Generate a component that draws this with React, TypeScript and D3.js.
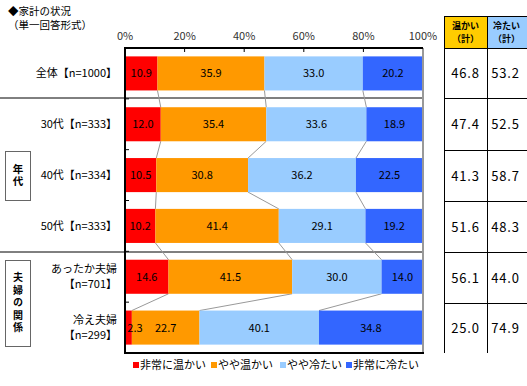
import React from 'react';
import * as d3 from 'd3';

const categories = ['全体【n=1000】', '30代【n=333】', '40代【n=334】', '50代【n=333】', 'あったか夫婦|【n=701】', '冷え夫婦|【n=299】'];
const seriesNames = ['非常に温かい', 'やや温かい', 'やや冷たい', '非常に冷たい'];
const veryWarm = [10.9, 12.0, 10.5, 10.2, 14.6, 2.3];
const warm = [35.9, 35.4, 30.8, 41.4, 41.5, 22.7];
const cold = [33.0, 33.6, 36.2, 29.1, 30.0, 40.1];
const veryCold = [20.2, 18.9, 22.5, 19.2, 14.0, 34.8];
const warmTotal = [46.8, 47.4, 41.3, 51.6, 56.1, 25.0];
const coldTotal = [53.2, 52.5, 58.7, 48.3, 44.0, 74.9];
const ticks = [0, 20, 40, 60, 80, 100];
const colors = ['#ff0000', '#ff9900', '#99ccff', '#3366ff'];

const FONT = '"Noto Sans CJK JP", "Noto Sans", sans-serif';

const App = () => {
  const left = 125, right = 423, top = 48, bottom = 353;
  const x = d3.scaleLinear().domain([0, 100]).range([left, right]);
  const y = d3.scaleBand<number>().domain(d3.range(categories.length)).range([top, bottom]).paddingInner(0.33).paddingOuter(0.165);
  const bw = y.bandwidth();

  const rows = categories.map((c, i) => {
    const vals = [veryWarm[i], warm[i], cold[i], veryCold[i]];
    let acc = 0;
    const segs = vals.map((v, k) => {
      const s = { k, v, x0: acc, x1: acc + v };
      acc += v;
      return s;
    });
    return { c, i, segs };
  });

  const tableRows = [top, 98, 150, 201, 252, 303, bottom];
  const colX = [444, 487, 530];

  return (
    <svg width={527} height={386} style={{ position: 'absolute', left: 0, top: 0, fontFamily: FONT }}>
      <rect width={527} height={386} fill="#fff" />
      <text x={8} y={15} fontSize={10.5}>◆家計の状況</text>
      <text x={8} y={29} fontSize={10.5}>（単一回答形式）</text>

      {/* group separators */}
      <line x1={0} x2={right} y1={98} y2={98} stroke="#000" />
      <line x1={0} x2={right} y1={252} y2={252} stroke="#000" />

      {/* connectors */}
      {rows.slice(0, -1).map((r, i) =>
        [0, 1, 2].map(k => (
          <line key={`c${i}-${k}`} x1={x(r.segs[k].x1)} y1={y(i)! + bw} x2={x(rows[i + 1].segs[k].x1)} y2={y(i + 1)!} stroke="#999" />
        ))
      )}

      {/* bars */}
      {rows.map(r => (
        <g key={r.i}>
          {r.segs.map(s => (
            <rect key={s.k} x={x(s.x0)} y={y(r.i)} width={x(s.x1) - x(s.x0)} height={bw} fill={colors[s.k]} />
          ))}
          {r.segs.map(s => (
            <text key={'t' + s.k} x={Math.max((x(s.x0) + x(s.x1)) / 2, left + 10)} y={y(r.i)! + bw / 2 + 4} fontSize={11} textAnchor="middle" fill="#000">
              {s.v.toFixed(1)}
            </text>
          ))}
        </g>
      ))}

      {/* category labels */}
      {categories.map((c, i) => {
        const parts = c.split('|');
        const cy = y(i)! + bw / 2;
        return parts.map((p, j) => (
          <text key={c + j} x={117} y={cy + 4 + (j - (parts.length - 1) / 2) * 15} fontSize={11} textAnchor="end">{p}</text>
        ));
      })}

      {/* group boxes (vertical text) */}
      <rect x={5.5} y={151.5} width={25} height={49} fill="#fff" stroke="#666" />
      <text x={18} y={176} fontSize={10.5} fontWeight="bold" textAnchor="middle" letterSpacing={2}
        style={{ writingMode: 'vertical-rl' }}>年代</text>
      <rect x={5.5} y={260.5} width={25} height={86} fill="#fff" stroke="#666" />
      <text x={18} y={303.5} fontSize={10} fontWeight="bold" textAnchor="middle" letterSpacing={2.5}
        style={{ writingMode: 'vertical-rl' }}>夫婦の関係</text>

      {/* axes & frame */}
      {ticks.map(t => (
        <g key={t}>
          <line x1={x(t)} x2={x(t)} y1={top} y2={top + 4} stroke="#000" />
          <text x={x(t)} y={40} fontSize={11} textAnchor="middle" fill="#333">{t}%</text>
        </g>
      ))}
      {d3.range(1, categories.length).map(i => (
        <line key={'yt' + i} x1={left} x2={left + 4} y1={top + y.step() * i} y2={top + y.step() * i} stroke="#000" />
      ))}
      <line x1={right} x2={right} y1={top} y2={bottom} stroke="#999" strokeWidth={2} />
      <line x1={left} x2={right} y1={top} y2={top} stroke="#000" strokeWidth={2} />
      <line x1={left} x2={right + 1} y1={bottom} y2={bottom} stroke="#000" strokeWidth={2} />
      <line x1={left} x2={left} y1={top - 1} y2={bottom + 1} stroke="#000" strokeWidth={2} />

      {/* totals table */}
      <rect x={colX[0]} y={16} width={colX[1] - colX[0]} height={top - 16} fill="#ffcc00" />
      <rect x={colX[1]} y={16} width={colX[2] - colX[1]} height={top - 16} fill="#99ccff" />
      <text x={(colX[0] + colX[1]) / 2} y={29} fontSize={9} fontWeight="bold" textAnchor="middle">温かい</text>
      <text x={(colX[0] + colX[1]) / 2} y={42} fontSize={9} fontWeight="bold" textAnchor="middle">（計）</text>
      <text x={(colX[1] + colX[2] - 4) / 2} y={29} fontSize={9} fontWeight="bold" textAnchor="middle">冷たい</text>
      <text x={(colX[1] + colX[2] - 4) / 2} y={42} fontSize={9} fontWeight="bold" textAnchor="middle">（計）</text>
      <line x1={colX[0]} x2={527} y1={16.5} y2={16.5} stroke="#000" />
      {tableRows.slice(0, -1).map(ty => (
        <line key={'tr' + ty} x1={colX[0]} x2={527} y1={ty + 0.5} y2={ty + 0.5} stroke="#000" />
      ))}
      {[colX[0], colX[1]].map(cx => (
        <line key={'tc' + cx} x1={cx + 0.5} x2={cx + 0.5} y1={16} y2={bottom} stroke="#000" />
      ))}
      {categories.map((c, i) => {
        const cy = (tableRows[i] + tableRows[i + 1]) / 2 + 5;
        return (
          <g key={'tv' + i}>
            <text x={(colX[0] + colX[1]) / 2} y={cy} fontSize={13} textAnchor="middle" letterSpacing={0.8}>{warmTotal[i].toFixed(1)}</text>
            <text x={(colX[1] + colX[2] - 6) / 2} y={cy} fontSize={13} textAnchor="middle" letterSpacing={0.8}>{coldTotal[i].toFixed(1)}</text>
          </g>
        );
      })}

      {/* legend */}
      {seriesNames.map((n, k) => {
        const lx = [133, 211, 280, 346][k];
        return (
          <g key={n}>
            <rect x={lx} y={362} width={6} height={6} fill={colors[k]} />
            <text x={lx + 7} y={369} fontSize={11}>{n}</text>
          </g>
        );
      })}
    </svg>
  );
};

export default App;
